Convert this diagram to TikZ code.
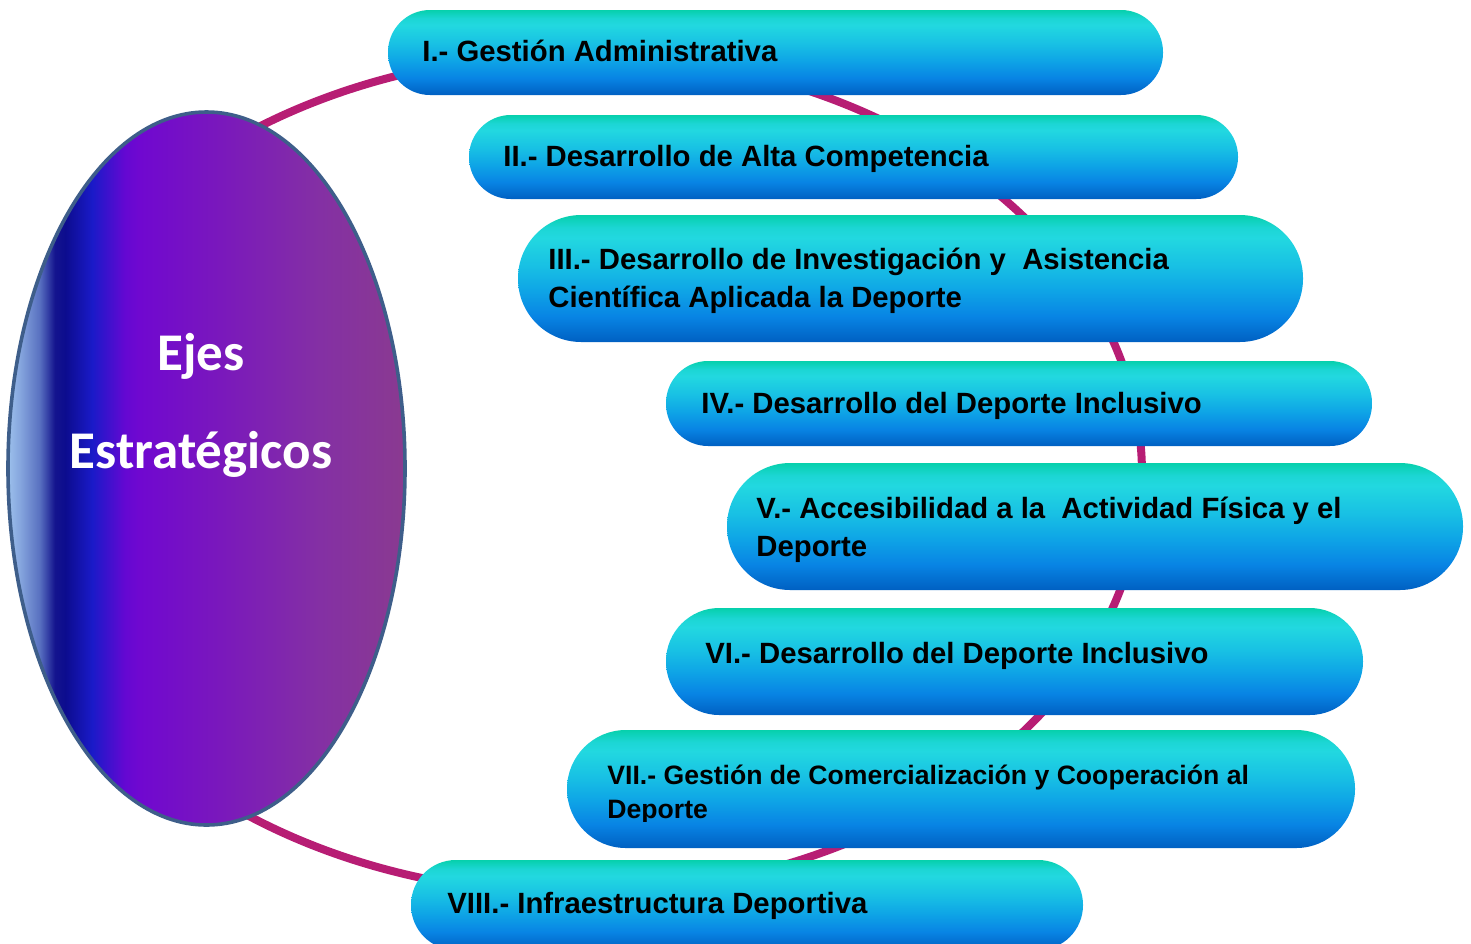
\documentclass[tikz,border=0pt]{standalone}
\usepackage{fontspec}
\setmainfont{Liberation Sans}
\newfontfamily\ejesfont{Carlito}
\usetikzlibrary{shapes.geometric}

\definecolor{arcocolor}{RGB}{183,29,116}
\definecolor{bordeeje}{RGB}{62,94,138}
% fondo del eje central
\definecolor{e0}{HTML}{9CC0EC}
\definecolor{e1}{HTML}{86A6DE}
\definecolor{e2}{HTML}{5870C0}
\definecolor{e3}{HTML}{14148E}
\definecolor{e4}{HTML}{0C0C8E}
\definecolor{e5}{HTML}{1A1AC8}
\definecolor{e6}{HTML}{6408D2}
\definecolor{e7}{HTML}{7008D0}
\definecolor{e8}{HTML}{7A18BC}
\definecolor{e9}{HTML}{8430A4}
\definecolor{e10}{HTML}{8A3A90}
\pgfdeclarehorizontalshading{ejesfondo}{100bp}{color(0bp)=(e0); color(25bp)=(e0);
  color(26.5bp)=(e1); color(29bp)=(e2); color(30.9bp)=(e3); color(32.2bp)=(e4);
  color(35.6bp)=(e5); color(39.7bp)=(e6); color(41.6bp)=(e7); color(51.7bp)=(e8);
  color(64.3bp)=(e9); color(75bp)=(e10); color(100bp)=(e10)}
% fondo de los ejes
\definecolor{p0}{HTML}{0060C2}
\definecolor{p1}{HTML}{0884E4}
\definecolor{p2}{HTML}{0EA4E6}
\definecolor{p3}{HTML}{18C0E4}
\definecolor{p4}{HTML}{22D8E0}
\definecolor{p5}{HTML}{1CD6D4}
\definecolor{p6}{HTML}{06D0AC}
\pgfdeclareverticalshading{pillfondo}{100bp}{color(0bp)=(p0); color(25bp)=(p0);
  color(35bp)=(p1); color(45bp)=(p2); color(55bp)=(p3); color(66bp)=(p4);
  color(70bp)=(p5); color(75bp)=(p6); color(100bp)=(p6)}

\begin{document}
\begin{tikzpicture}[x=0.5pt,y=-0.5pt,
    pill/.style={rectangle, shade, shading=pillfondo, inner sep=0pt},
    lbl/.style={inner sep=0pt, anchor=base west, font=\bfseries\fontsize{14.65}{19}\selectfont},
    ejetxt/.style={inner sep=0pt, anchor=base, text=white, font=\ejesfont\bfseries\fontsize{26.5}{30}\selectfont}]
    \useasboundingbox (0,0) rectangle (1471,943);
    \clip (0,0) rectangle (1471,943);

    % arco
    \draw[arcocolor, line width=4pt] (577,474) ellipse [x radius=282.5pt, y radius=210pt];

    % eje central
    \node[ellipse, draw=bordeeje, line width=1.8pt, shade, shading=ejesfondo, minimum width=198.5pt, minimum height=356.5pt, inner sep=0pt] (eje) at (206.5,468.5) {};
    \node[ejetxt] (ejes) at (201,370) {Ejes};
    \node[ejetxt] (estrat) at (201,468) {Estratégicos};

    % ejes
    \node[pill, minimum width=387.5pt, minimum height=42.5pt, rounded corners=21pt] (eje1) at (775.5,52.5) {};
    \node[lbl] (txt1) at (422,61) {I.- Gestión Administrativa};

    \node[pill, minimum width=384.5pt, minimum height=42pt, rounded corners=20.9pt] (eje2) at (853.5,157) {};
    \node[lbl] (txt2) at (503,166) {II.- Desarrollo de Alta Competencia};

    \node[pill, minimum width=392.5pt, minimum height=63.5pt, rounded corners=31.6pt] (eje3) at (910.5,278.5) {};
    \node[lbl] (txt3) at (548,269) {\begin{tabular}[t]{@{}l@{}}III.- Desarrollo de Investigación y\ \ Asistencia\\Científica Aplicada la Deporte\end{tabular}};

    \node[pill, minimum width=353pt, minimum height=42.5pt, rounded corners=21pt] (eje4) at (1019,403.5) {};
    \node[lbl] (txt4) at (701,413) {IV.- Desarrollo del Deporte Inclusivo};

    \node[pill, minimum width=368pt, minimum height=63.5pt, rounded corners=31.6pt] (eje5) at (1095,526.5) {};
    \node[lbl] (txt5) at (756,518) {\begin{tabular}[t]{@{}l@{}}V.- Accesibilidad a la\ \ Actividad Física y el\\Deporte\end{tabular}};

    \node[pill, minimum width=348.5pt, minimum height=53.5pt, rounded corners=26.6pt] (eje6) at (1014.5,661.5) {};
    \node[lbl] (txt6) at (705,663) {VI.- Desarrollo del Deporte Inclusivo};

    \node[pill, minimum width=394pt, minimum height=59pt, rounded corners=29.4pt] (eje7) at (961,789) {};
    \begin{scope}
        \clip (560,700) rectangle (1360,821);
        \node[lbl, font=\bfseries\fontsize{13.3}{17}\selectfont] (txt7) at (607,784) {\begin{tabular}[t]{@{}l@{}}VII.- Gestión de Comercialización y Cooperación al\\Deporte\end{tabular}};
    \end{scope}

    \node[pill, minimum width=336pt, minimum height=45pt, rounded corners=22.4pt] (eje8) at (747,905) {};
    \node[lbl] (txt8) at (447,913) {VIII.- Infraestructura Deportiva};
\end{tikzpicture}
\end{document}
